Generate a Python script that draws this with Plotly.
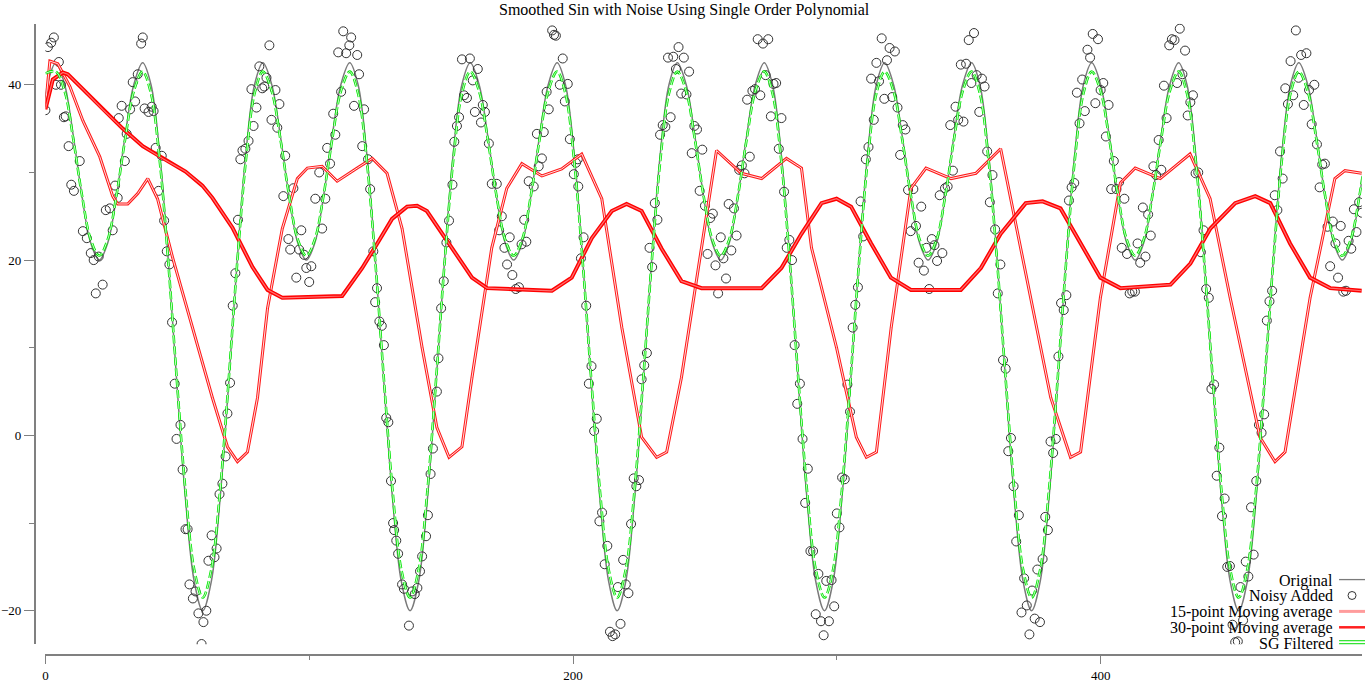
import plotly.graph_objects as go

W, H = 1365, 683

# ---------------- data ----------------
# one period of the clean signal, as offsets (x units) from each local dip
cycle_dx = [-39.27, -36.0, -32.72, -29.45, -26.18, -22.91, -19.63, -16.47, -13.09, -9.82, -6.54, -3.27,
            0, 3.27, 6.54, 9.82, 13.09, 16.47, 19.63, 22.91, 26.18, 29.45, 32.72, 36.0]
orig_cycle_y = [-20, -16.64, -7.32, 5.86, 20, 32.14, 40, 42.5, 40, 34.14, 27.32, 22.0,
                20, 22.0, 27.32, 34.14, 40, 42.5, 40, 32.14, 20, 5.86, -7.32, -16.64]
sg_cycle_y = [-18.5, -15.29, -6.39, 6.21, 19.75, 31.4, 39.0, 41.5, 39.25, 33.79, 27.39, 22.39,
              20.5, 22.39, 27.39, 33.79, 39.25, 41.5, 39.0, 31.4, 19.75, 6.21, -6.39, -15.29]
dip_x = [20.4, 98.9, 177.5, 256.0, 334.6, 413.1, 491.6]
sg_head_x = [0.0]
sg_head_y = [41.3]

noisy_x_a = [0, 0.95, 2.2, 3.2, 4.0, 5.1, 5.9, 7.0, 7.7, 8.8,
             9.8, 10.8, 13.0, 27.4, 27.8, 28.9, 30.1, 30.8, 32.1, 33.1,
             34.0, 35.0, 36.3, 36.9, 37.6, 39.1, 40.3, 41.0, 41.8, 42.9,
             44.1, 49.7, 51.2, 52.0, 53.1, 53.9, 54.6, 55.9, 56.9, 58.0,
             59.2, 59.9, 61.0, 61.8, 63.0, 64.1, 64.9, 66.0, 67.1, 68.3,
             69.0, 73.9, 74.7, 75.8, 77.0, 78.1, 78.9, 80.0, 81.1, 82.2,
             83.0, 83.8, 84.9, 85.7, 87.2, 87.9, 88.7, 90.2, 90.9, 92.1,
             92.8, 94.0, 95.1, 96.2, 97.0, 98.1, 98.9, 100.0, 100.8, 102.3,
             103.8, 104.9, 106.1, 106.8, 107.9, 109.1, 109.9, 111.0, 112.1, 112.9,
             114.0, 115.2, 115.9, 117.0, 118.2, 118.9, 120.1, 120.8, 122.3, 123.1,
             124.3, 125.0, 125.7, 154.3, 155.0, 156.0, 156.8, 157.9, 158.7, 159.8,
             160.9, 162.0, 162.8, 163.9, 165.1, 165.8, 166.6, 168.1, 169.2, 171.1,
             183.2, 185.1, 186.3, 187.0, 188.2, 188.9, 190.0, 190.8, 192.1, 192.8,
             193.5, 195.0, 196.1, 196.9, 198.0, 198.8, 200.3, 201.1, 201.8, 19.1,
             21.7]
noisy_y_a = [37.1, 44.3, 44.8, 45.4, 40.0, 42.6, 40.0, 36.3, 36.4, 33.0,
             28.6, 27.9, 31.3, 27.1, 36.2, 37.6, 31.3, 34.4, 37.2, 40.3,
             38.1, 41.2, 44.7, 45.4, 37.3, 36.9, 37.5, 37.0, 32.8, 27.9,
             31.9, -0.4, 1.2, -3.9, -10.7, -10.7, -17.0, -18.6, -17.8, -20.3,
             -23.8, -21.3, -20.0, -14.3, -11.4, -13.9, -12.9, -6.7, -5.5, -2.4,
             2.5, 31.5, 32.5, 32.7, 33.6, 39.5, 35.3, 37.4, 42.1, 39.6,
             39.8, 40.8, 44.5, 36.0, 39.4, 35.1, 37.8, 27.3, 31.9, 22.4,
             21.2, 28.2, 18.0, 21.2, 23.4, 20.6, 19.1, 17.5, 19.3, 27.0,
             30.0, 23.6, 27.0, 32.8, 31.0, 36.7, 34.3, 43.7, 39.2, 46.1,
             43.6, 44.5, 45.4, 37.6, 43.4, 41.2, 33.0, 37.2, 31.5, 28.1,
             21.0, 15.2, 16.8, 28.6, 33.5, 35.3, 36.3, 42.9, 38.8, 38.5,
             43.0, 40.5, 36.9, 41.8, 35.7, 37.7, 36.9, 33.3, 28.7, 28.7,
             29.0, 28.4, 34.4, 30.7, 31.6, 34.6, 39.2, 37.2, 46.2, 45.7,
             45.6, 40.0, 43.0, 38.1, 40.1, 33.8, 29.8, 31.1, 31.5, 16.2,
             17.2]

noisy_x_b = [14.2, 15.7, 17.2, 18.3, 20.2, 22.9, 24.4, 25.5, 26.4, 45,
             46, 47, 48, 49.0, 70, 71, 72, 73, 126.6, 127.5,
             128.3, 129.2, 130, 131, 131.8, 132.2, 133, 133.7, 135.2, 135.9,
             137.8, 139, 140, 141, 142, 142.8, 144.3, 145, 146, 146.9,
             148.4, 149, 150, 151, 152, 153, 172, 173, 174, 175,
             176, 177, 178.3, 179.5, 180.5, 181.5, 182.3]
noisy_y_b = [23.3, 22.5, 20.8, 20.0, 20.4, 25.7, 25.9, 23.4, 28.5, 24.5,
             21.0, 19.5, 12.9, 5.9, 6.0, 14.8, 18.5, 24.6, 13.0, 12.5,
             10.3, 2.0, 1.5, -5.2, -10.0, -10.8, -12.0, -13.5, -17.0, -17.5,
             -21.7, -17.8, -18.1, -17.4, -15.5, -13.8, -11.5, -9.1, -4.4, -1.5,
             5.0, 8.8, 14.5, 17.6, 22.0, 24.5, 23.4, 25.0, 21.4, 19.5,
             22.6, 18.3, 16.7, 16.9, 21.8, 24.6, 22.1]

# one sample per x from 202 to 499
noisy_x_c = list(range(202, 500))
noisy_y_c = [28.4, 20.2, 22.6, 14.8, 5.9, 7.9, 0.5, 1.9, -9.8, -8.8,
             -14.7, -12.6, -22.4, -22.9, -22.7, -17.3, -21.5, -14.2, -17.0, -18.0,
             -10.1, -4.9, -5.8, -5.1, 6.4, 8.0, 9.4, 21.4, 19.2, 26.5,
             24.6, 34.3, 35.4, 35.2, 43.1, 36.3, 43.2, 41.8, 44.3, 39.0,
             43.1, 38.9, 41.5, 32.2, 35.3, 34.9, 27.9, 32.6, 26.2, 20.7,
             24.8, 25.3, 19.4, 16.2, 22.6, 20.2, 17.9, 26.4, 21.1, 25.9,
             22.8, 30.3, 30.8, 29.9, 38.3, 31.8, 39.3, 39.5, 45.2, 38.8,
             44.7, 41.1, 45.2, 36.4, 40.1, 40.2, 32.7, 36.2, 27.8, 21.4,
             22.3, 20.0, 10.3, 3.6, 5.9, -0.4, -7.7, -3.8, -13.2, -13.2,
             -20.4, -15.8, -21.2, -22.8, -16.6, -21.2, -16.5, -19.5, -8.9, -10.5,
             -4.8, -5.0, 5.8, 2.7, 12.3, 14.9, 16.9, 26.7, 22.7, 31.5,
             32.9, 40.7, 36.0, 42.5, 40.4, 45.3, 38.4, 42.8, 44.2, 38.6,
             43.8, 37.4, 32.0, 35.4, 34.9, 28.0, 23.3, 28.1, 23.9, 19.7,
             26.1, 18.8, 21.4, 16.7, 22.4, 21.7, 19.9, 27.4, 20.8, 28.2,
             28.4, 35.4, 30.2, 37.5, 36.0, 42.3, 35.8, 42.4, 45.1, 40.2,
             45.9, 41.1, 36.9, 40.7, 39.8, 32.4, 26.6, 29.7, 23.5, 16.2,
             19.5, 8.6, 7.6, -1.8, -0.3, -5.8, -12.1, -9.1, -20.2, -16.3,
             -19.4, -22.7, -17.7, -20.9, -15.3, -21.3, -14.1, -9.3, -10.8, -0.7,
             -2.0, -0.4, 9.0, 15.1, 14.3, 16.0, 26.8, 28.3, 28.8, 39.1,
             35.6, 40.6, 37.0, 44.0, 43.1, 45.8, 37.9, 45.2, 39.4, 40.2,
             34.1, 37.7, 28.1, 31.3, 28.1, 28.9, 21.4, 27.0, 20.7, 16.2,
             16.4, 16.4, 21.9, 19.7, 26.0, 20.4, 25.2, 22.8, 30.7, 29.7,
             33.7, 30.3, 39.9, 36.2, 44.5, 45.2, 45.1, 40.2, 46.4, 41.2,
             43.9, 36.5, 38.0, 38.8, 29.9, 30.0, 20.9, 23.4, 16.7, 15.7,
             5.3, 5.8, -4.6, -1.4, -9.2, -7.2, -15.0, -14.9, -21.6, -23.6,
             -23.5, -17.3, -21.1, -14.4, -16.1, -8.2, -13.6, -5.2, 1.2, 0.3,
             2.4, 13.1, 15.3, 16.5, 27.4, 25.7, 32.4, 29.3, 39.6, 37.8,
             42.7, 38.8, 46.2, 40.8, 43.4, 37.7, 43.6, 39.4, 35.5, 40.0,
             33.2, 28.3, 30.9, 31.0, 23.8, 19.3, 24.4, 21.9, 18.0, 23.9,
             16.4, 16.5, 22.2, 21.3, 25.8, 23.2, 26.6, 25.4]

ma15_x = [0, 1.7, 4.7, 9.3, 14.2, 20.6, 25.5, 27.4, 31.2, 35.0, 38.8, 42.5, 48.2, 55.8, 63.3, 69.0,
          72.8, 76.6, 80.4, 84.2, 89.8, 95.5, 99.3, 104.9, 110.6, 118.2, 123.9, 129.5, 135.2, 142.8,
          148.4, 153.0, 157.9, 161.7, 169.2, 174.9, 180.6, 188.2, 195.7, 203.3, 210.9, 218.5, 226.0,
          231.7, 235.5, 241.1, 248.7, 254.4, 263.8, 271.5, 280.9, 286.6, 290.4, 299.9, 307.4, 311.2,
          315.0, 320.6, 328.1, 333.8, 343.3, 352.7, 362.1, 369.7, 381.1, 388.6, 392.4, 399.9, 407.5,
          413.1, 422.6, 433.9, 441.5, 449.1, 460.4, 466.1, 469.9, 479.4, 488.8, 492.6, 499]
ma15_y = [37.5, 42.7, 42.4, 39.8, 35.9, 31.8, 27.3, 26.4, 26.4, 27.6, 29.3, 27.0, 20.3, 12.3, 4.3, -1.3,
          -3.0, -1.9, 4.3, 14.5, 23.6, 29.3, 30.5, 30.7, 29.0, 30.5, 31.6, 29.9, 23.6, 10.0,
          0.9, -2.5, -1.3, 6.6, 21.4, 28.2, 31.0, 29.6, 30.4, 32.1, 27.0, 12.3, -0.2,
          -2.5, -1.9, 6.6, 21.4, 32.5, 29.9, 29.3, 31.6, 30.5, 21.4, 10.0, -0.2, -2.5,
          -1.9, 12.3, 28.2, 30.5, 29.3, 29.9, 32.7, 21.4, 4.3, -2.5, -1.9, 15.7, 28.8,
          30.5, 29.3, 32.1, 27.0, 15.7, -0.2, -3.0, -1.9, 15.7, 29.3, 30.2, 29.9]

ma30_x = [0, 2.8, 6.6, 8.5, 14.2, 21.7, 29.3, 36.9, 44.4, 53.1, 59.5, 63.3, 70.9, 78.5, 84.2, 89.8,
          112.5, 120.1, 125.8, 131.4, 137.1, 140.9, 144.6, 154.1, 161.7, 167.4, 192.0, 199.5, 207.1,
          214.7, 220.3, 226.0, 233.6, 241.1, 248.7, 271.5, 279.0, 286.6, 294.2, 299.9, 305.4, 313.0,
          320.5, 328.1, 347.0, 354.6, 362.1, 371.6, 378.0, 384.8, 392.4, 399.9, 407.5, 426.5, 434.0,
          441.6, 451.0, 458.6, 464.3, 471.8, 479.4, 487.0, 499]
ma30_y = [37.2, 40.6, 41.4, 41.2, 39.5, 37.2, 35.0, 33.0, 31.6, 30.1, 28.5, 27.1, 23.7, 19.2, 16.6, 15.7,
          15.9, 19.1, 21.9, 24.7, 26.1, 26.2, 25.6, 21.3, 18.0, 16.8, 16.5, 18.0, 22.5,
          25.6, 26.4, 25.6, 21.3, 17.6, 16.8, 16.8, 19.1, 23.0, 26.5, 27.0, 26.1, 21.9,
          18.0, 16.6, 16.6, 19.1, 23.0, 26.5, 26.7, 25.9, 21.9, 18.0, 16.8, 17.2, 19.6,
          23.6, 26.5, 27.3, 26.5, 21.9, 18.0, 16.8, 16.5]

legend_names = ["Original", "Noisy Added", "15-point Moving average",
                "30-point Moving average", "SG Filtered"]
title_text = "Smoothed Sin with Noise Using Single Order Polynomial"
x_ticks = [0, 200, 400]
x_minor = [100, 300]
y_ticks = [-20, 0, 20, 40]
y_minor = [-10, 10, 30]

assert len(noisy_x_a) == len(noisy_y_a)
assert len(noisy_x_b) == len(noisy_y_b)
assert len(noisy_x_c) == len(noisy_y_c)
assert len(ma15_x) == len(ma15_y)
assert len(ma30_x) == len(ma30_y)

noisy_x = noisy_x_a + noisy_x_b + noisy_x_c
noisy_y = noisy_y_a + noisy_y_b + noisy_y_c

# assemble the periodic curves from the one-period tables
orig_x, orig_y = [], []
sg_x, sg_y = list(sg_head_x), list(sg_head_y)
for d in dip_x:
    for o, yo, ys in zip(cycle_dx, orig_cycle_y, sg_cycle_y):
        orig_x.append(d + o); orig_y.append(yo)
        if d + o > 3.5:
            sg_x.append(d + o); sg_y.append(ys)

SERIF = "Liberation Serif"
fig = go.Figure()
fig.add_trace(go.Scatter(x=orig_x, y=orig_y, mode="lines",
                         line=dict(color="#7a7a7a", width=1.5, shape="spline"), hoverinfo="skip"))
fig.add_trace(go.Scatter(x=noisy_x, y=noisy_y, mode="markers",
                         marker=dict(symbol="circle-open", size=9, color="#333333", line=dict(width=1))))
fig.add_trace(go.Scatter(x=ma15_x, y=ma15_y, mode="lines", line=dict(color="#ff1a1a", width=3)))
fig.add_trace(go.Scatter(x=ma15_x, y=ma15_y, mode="lines", line=dict(color="#ffe0e0", width=1)))
fig.add_trace(go.Scatter(x=ma30_x, y=ma30_y, mode="lines", line=dict(color="#ff0000", width=4)))
fig.add_trace(go.Scatter(x=ma30_x, y=ma30_y, mode="lines", line=dict(color="#ff7070", width=1.2)))
fig.add_trace(go.Scatter(x=sg_x, y=sg_y, mode="lines",
                         line=dict(color="#00e600", width=2.6, dash="8px,3px", shape="spline")))
fig.add_trace(go.Scatter(x=sg_x, y=sg_y, mode="lines",
                         line=dict(color="#ffffff", width=0.8, dash="8px,3px", shape="spline")))

# x/y domain in paper fractions (pixel positions of the reference)
xd = [42.5 / W, 1361.8 / W]
yd = [1 - 648 / H, 1 - 24 / H]
axis_col = "#808080"
fig.update_layout(
    width=W, height=H, margin=dict(l=0, r=0, t=0, b=0),
    paper_bgcolor="white", plot_bgcolor="white", showlegend=False,
    font=dict(family=SERIF, size=13, color="black"),
    xaxis=dict(domain=xd, range=[0, 499], anchor="free", position=1 - 659.3 / H,
               showgrid=False, zeroline=False, showline=True, linecolor=axis_col, linewidth=1.5,
               tickmode="array", tickvals=x_ticks, ticks="outside", ticklen=8, tickcolor=axis_col,
               tickwidth=1.3, tickfont=dict(family=SERIF, size=13),
               minor=dict(tickmode="array", tickvals=x_minor, ticks="outside", ticklen=4,
                          tickcolor=axis_col, tickwidth=1.3)),
    yaxis=dict(domain=yd, range=[-23.82, 46.95], anchor="free", position=31.7 / W,
               showgrid=False, zeroline=False, showline=True, linecolor=axis_col, linewidth=1.5,
               tickmode="array", tickvals=y_ticks, ticks="outside", ticklen=10, tickcolor=axis_col,
               tickwidth=1.3, tickfont=dict(family=SERIF, size=13),
               minor=dict(tickmode="array", tickvals=y_minor, ticks="outside", ticklen=5,
                          tickcolor=axis_col, tickwidth=1.3)),
)

fig.add_annotation(text=title_text, x=682.5 / W, y=1 - 10 / H, xref="paper", yref="paper",
                   xanchor="center", yanchor="middle", showarrow=False,
                   font=dict(family=SERIF, size=16, color="black"))

# legend drawn gnuplot-style: right-aligned text, sample to the right
row_py = [584, 600, 616, 632, 647]
for name, py in zip(legend_names, row_py):
    fig.add_annotation(text=name, x=1335 / W, y=1 - py / H, xref="paper", yref="paper",
                       xanchor="right", yanchor="middle", showarrow=False,
                       font=dict(family=SERIF, size=16, color="black"))
lx0, lx1 = 1339 / W, 1.0
fig.add_shape(type="line", xref="paper", yref="paper", x0=lx0, x1=lx1, y0=1 - 583 / H, y1=1 - 583 / H,
              line=dict(color="#7a7a7a", width=1.3))
fig.add_shape(type="circle", xref="paper", yref="paper", x0=1348 / W, x1=1356 / W,
              y0=1 - 603 / H, y1=1 - 595 / H, line=dict(color="#333333", width=1))
fig.add_shape(type="line", xref="paper", yref="paper", x0=lx0, x1=lx1, y0=1 - 615 / H, y1=1 - 615 / H,
              line=dict(color="#ff9c9c", width=3))
fig.add_shape(type="line", xref="paper", yref="paper", x0=lx0, x1=lx1, y0=1 - 631 / H, y1=1 - 631 / H,
              line=dict(color="#ff2020", width=2.5))
for dy in (-1.5, 1.5):
    fig.add_shape(type="line", xref="paper", yref="paper", x0=lx0, x1=lx1,
                  y0=1 - (646 + dy) / H, y1=1 - (646 + dy) / H, line=dict(color="#00dd00", width=1))

fig.write_html("out.html", config={"displayModeBar": False},
               post_script="document.body.style.margin='0';document.body.style.overflow='hidden';")
